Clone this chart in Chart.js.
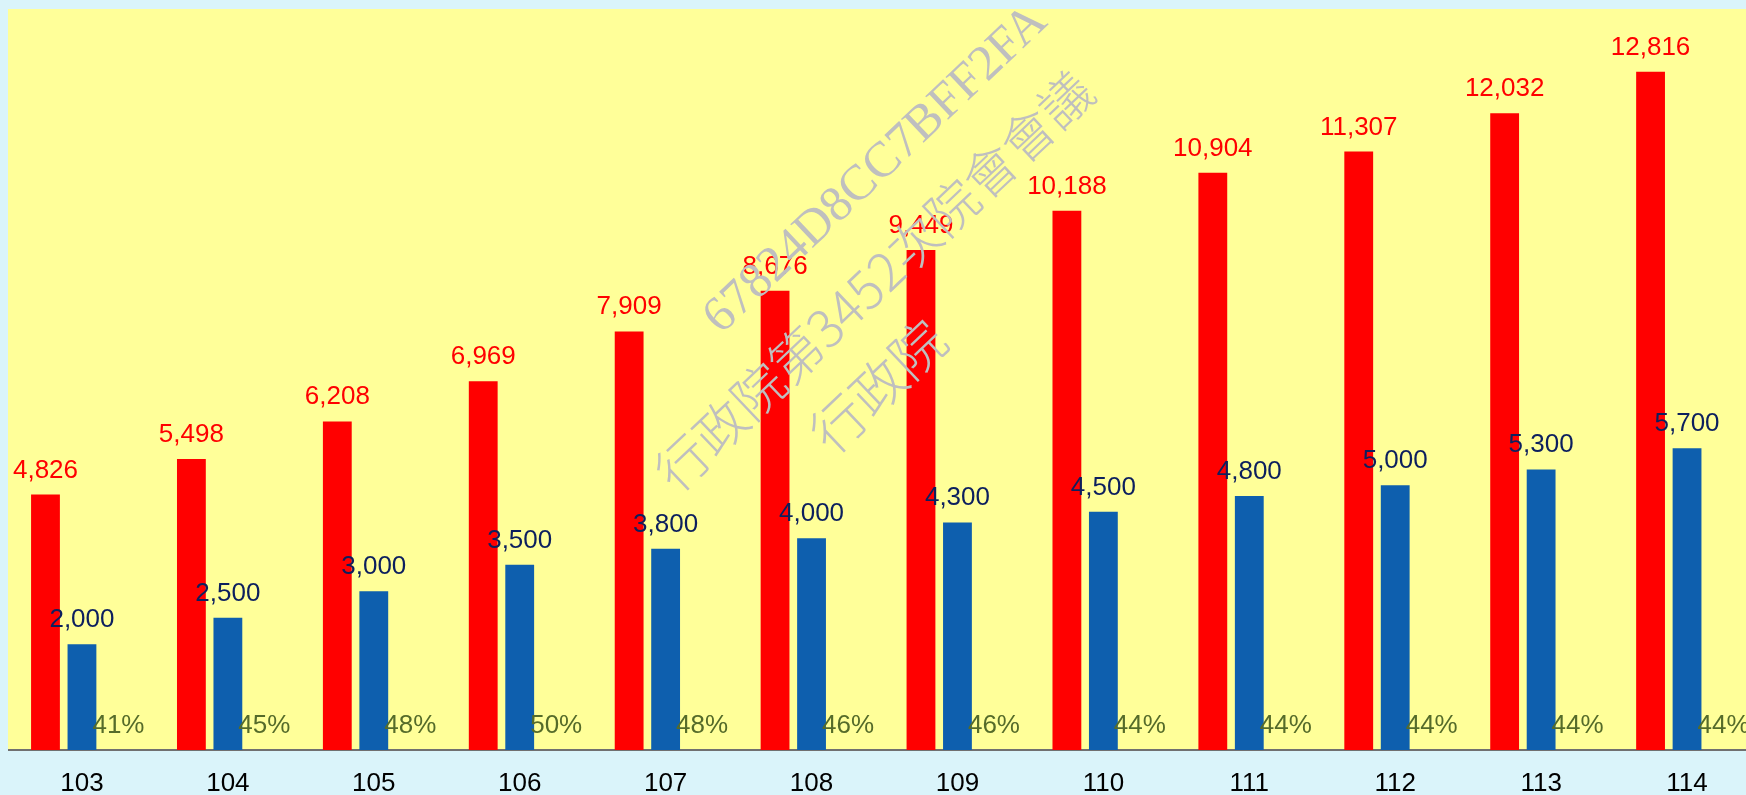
<!DOCTYPE html>
<html>
<head>
<meta charset="utf-8">
<script src="https://cdn.jsdelivr.net/npm/chart.js@4/dist/chart.umd.min.js"></script>
<style>
  html, body { margin: 0; padding: 0; background: #DAF4FA; overflow: hidden; }
  #wrap { width: 1762px; height: 795px; }
  canvas { display: block; }
</style>
</head>
<body>
<div id="wrap"><canvas id="chart" width="1762" height="795"></canvas></div>
<script>
// 年度
const years = ['103', '104', '105', '106', '107', '108', '109', '110', '111', '112', '113', '114'];
// 紅色長條
const redValues = [4826, 5498, 6208, 6969, 7909, 8676, 9449, 10188, 10904, 11307, 12032, 12816];
// 藍色長條
const blueValues = [2000, 2500, 3000, 3500, 3800, 4000, 4300, 4500, 4800, 5000, 5300, 5700];
// 比例 (%)
const pctValues = [41, 45, 48, 50, 48, 46, 46, 44, 44, 44, 44, 44];

const LABEL_FONT = '26px "Liberation Sans", Arial, sans-serif';

// 黃色繪圖區背景
const plotBg = {
  id: 'plotBg',
  beforeDraw(chart) {
    const c = chart.ctx;
    const a = chart.chartArea;
    c.save();
    c.fillStyle = '#FFFF99';
    c.fillRect(8, a.top, chart.width - 8, a.bottom - a.top);
    c.restore();
  }
};

// 數值標籤
const valueLabels = {
  id: 'valueLabels',
  afterDatasetsDraw(chart) {
    const c = chart.ctx;
    c.save();
    c.font = LABEL_FONT;
    c.textAlign = 'center';
    c.textBaseline = 'alphabetic';
    chart.data.datasets.forEach((ds, i) => {
      const meta = chart.getDatasetMeta(i);
      meta.data.forEach((bar, j) => {
        let txt;
        if (ds.isPct) txt = pctValues[j] + '%';
        else txt = ds.data[j].toLocaleString('en-US');
        c.fillStyle = ds.labelColor;
        c.fillText(txt, bar.x, bar.y - 17);
      });
    });
    c.restore();
  }
};

// 浮水印
const watermark = {
  id: 'watermark',
  afterDraw(chart) {
    const c = chart.ctx;
    c.save();
    c.fillStyle = '#BFBFBF';
    c.textAlign = 'center';
    c.textBaseline = 'middle';
    const ang = -43.5 * Math.PI / 180;
    const lines = [
      ['67824D8CC7BFF2FA', 876, 170, '50px "Liberation Serif", serif'],
      ['行政院第3452次院會會議', 874, 281, '300 52px "Noto Sans CJK TC", sans-serif'],
      ['行政院', 878, 386, '300 54px "Noto Sans CJK TC", sans-serif']
    ];
    lines.forEach(([t, x, y, f]) => {
      c.save();
      c.translate(x, y);
      c.rotate(ang);
      c.font = f;
      c.fillText(t, 0, 0);
      c.restore();
    });
    c.restore();
  }
};

new Chart(document.getElementById('chart'), {
  type: 'bar',
  data: {
    labels: years,
    datasets: [
      {
        data: redValues,
        backgroundColor: '#FF0000',
        labelColor: '#FF0000'
      },
      {
        data: blueValues,
        backgroundColor: '#0E5FAE',
        labelColor: '#0C1F5E'
      },
      {
        data: pctValues.map(() => 0),
        backgroundColor: 'rgba(0,0,0,0)',
        labelColor: '#556B2A',
        isPct: true
      }
    ]
  },
  options: {
    responsive: false,
    animation: false,
    devicePixelRatio: 1,
    layout: { padding: { left: 9, right: 2, top: 9, bottom: 0 } },
    datasets: {
      bar: { categoryPercentage: 0.75, barPercentage: 0.79 }
    },
    plugins: {
      legend: { display: false },
      tooltip: { enabled: false }
    },
    scales: {
      x: {
        grid: { display: false, drawTicks: false },
        border: { display: true, color: '#707070', width: 2 },
        ticks: {
          color: '#000000',
          font: { family: '"Liberation Sans", Arial, sans-serif', size: 26 },
          padding: 18,
          maxRotation: 0
        },
        afterFit(scale) { scale.height = 45; }
      },
      y: {
        display: false,
        min: 0,
        max: 14000
      }
    }
  },
  plugins: [plotBg, valueLabels, watermark]
});
</script>
</body>
</html>
